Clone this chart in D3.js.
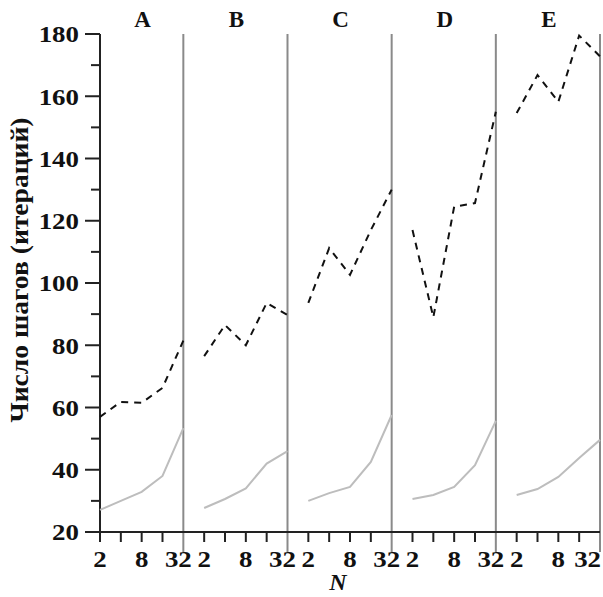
<!DOCTYPE html>
<html><head><meta charset="utf-8">
<script src="https://cdn.jsdelivr.net/npm/d3@7"></script>
<style>body{margin:0;background:#fff}svg{display:block}</style>
</head><body>
<script>
const panels = ["A","B","C","D","E"];
const nValues = [2,4,8,16,32];
const nTickLabels = [2,8,32];
const yTicks = [20,40,60,80,100,120,140,160,180];
const dashedSeries = [
  [57, 61.8, 61.5, 66.3, 81.5],
  [76.5, 86.5, 80, 93.6, 89.7],
  [93.6, 111.2, 102.6, 117, 130],
  [117, 89, 124.5, 125.7, 155],
  [154.6, 166.8, 158.2, 179.5, 172.8]
];
const greySeries = [
  [27.1, 30, 32.9, 38, 53.4],
  [27.7, 30.6, 34, 42, 46],
  [30, 32.5, 34.5, 42.5, 57.6],
  [30.6, 31.9, 34.5, 41.5, 55.7],
  [31.9, 33.8, 37.7, 43.8, 49.6]
];

const W = 603, H = 597;
const svg = d3.select("body").append("svg").attr("width", W).attr("height", H);
const font = "Liberation Serif, serif";

const y = d3.scaleLinear().domain([20,180]).range([532,34]);
const x = d3.scaleLinear().domain([0, panels.length*nValues.length - 1]).range([100,600]);
const gi = (p, n) => p*nValues.length + Math.log2(n) - 1;

// panel boundary lines and letters
panels.forEach((p,i) => {
  const bx = x(gi(i, 32));
  const left = i === 0 ? 100 : x(gi(i-1, 32));
  svg.append("line").attr("x1", bx).attr("x2", bx).attr("y1", y(180)).attr("y2", 552)
    .attr("stroke", "#8a8a8a").attr("stroke-width", 2);
  svg.append("text").attr("x", (left + bx)/2 + 1).attr("y", 27)
    .attr("text-anchor","middle").attr("font-family", font).attr("font-weight","bold")
    .attr("font-size", 23).attr("fill","#111").text(p);
});

// y axis
const yAxis = svg.append("g");
yAxis.append("line").attr("x1",100).attr("x2",100).attr("y1",y(180)).attr("y2",542)
  .attr("stroke","#222").attr("stroke-width",2);
d3.range(20,181,10).forEach(v => {
  const major = v % 20 === 0;
  yAxis.append("line").attr("x1", major ? 85 : 91).attr("x2",100).attr("y1",y(v)).attr("y2",y(v))
    .attr("stroke","#222").attr("stroke-width",2);
});
yTicks.forEach(v => {
  yAxis.append("text").attr("x",79).attr("y",y(v)).attr("dy","0.35em").attr("text-anchor","end")
    .attr("font-family",font).attr("font-weight","bold").attr("font-size",24).attr("fill","#111")
    .attr("transform", `translate(79,${y(v)}) scale(1.12,1) translate(-79,${-y(v)})`)
    .text(v);
});

// x axis
const xAxis = svg.append("g");
xAxis.append("line").attr("x1",85).attr("x2",600).attr("y1",532).attr("y2",532)
  .attr("stroke","#222").attr("stroke-width",2);
panels.forEach((p,i) => {
  nValues.forEach(n => {
    const px = x(gi(i,n));
    if (n !== 32) xAxis.append("line").attr("x1",px).attr("x2",px).attr("y1",532).attr("y2",542)
      .attr("stroke","#222").attr("stroke-width",2);
  });
  nTickLabels.forEach(n => {
    const last = (i === panels.length-1 && n === 32);
    const px = last ? 601 : x(gi(i,n)) - (n===32 ? 5 : 0);
    xAxis.append("text").attr("x",px).attr("y",567).attr("text-anchor", last ? "end" : "middle")
      .attr("font-family",font).attr("font-weight","bold").attr("font-size",24).attr("fill","#111")
      .attr("transform", `translate(${px},567) scale(1.12,1) translate(${-px},-567)`)
      .text(n);
  });
});
svg.append("text").attr("x",338).attr("y",590).attr("text-anchor","middle")
  .attr("font-family",font).attr("font-weight","bold").attr("font-style","italic")
  .attr("font-size",24).attr("fill","#111").text("N");

// y title
svg.append("text").attr("transform","translate(28,270) rotate(-90)").attr("text-anchor","middle")
  .attr("font-family",font).attr("font-weight","bold").attr("font-size",26).attr("fill","#111")
  .attr("textLength",305).attr("lengthAdjust","spacingAndGlyphs")
  .text("Число шагов (итераций)");

// lines
const line = d3.line().x(d => x(d[0])).y(d => y(d[1]));
panels.forEach((p,i) => {
  const g = greySeries[i].map((v,k) => [gi(i,nValues[k]), v]);
  const d = dashedSeries[i].map((v,k) => [gi(i,nValues[k]), v]);
  svg.append("path").attr("d", line(g)).attr("fill","none").attr("stroke","#bdbdbd").attr("stroke-width",2);
  svg.append("path").attr("d", line(d)).attr("fill","none").attr("stroke","#111").attr("stroke-width",2)
    .attr("stroke-dasharray","7,6");
});
</script>
</body></html>
